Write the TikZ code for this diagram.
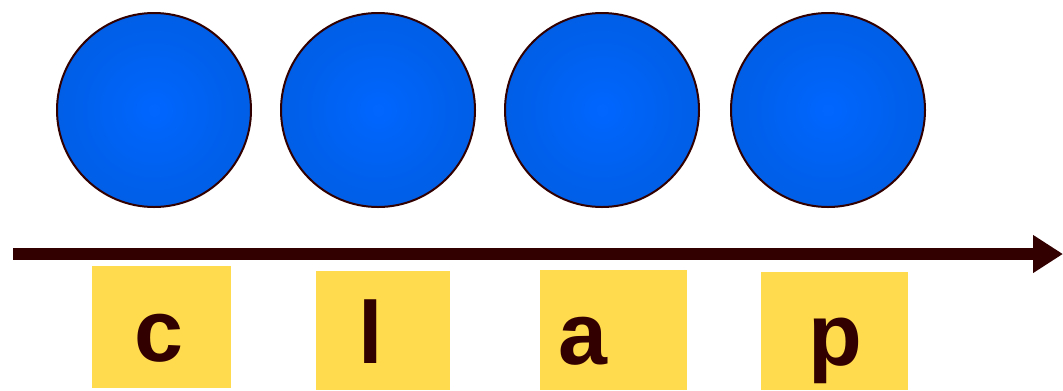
\documentclass[tikz,border=0pt]{standalone}
\usepackage{fontspec}
\setmainfont{Liberation Sans}
\usetikzlibrary{arrows.meta}
\definecolor{darkline}{HTML}{330000}
\definecolor{ballin}{HTML}{0066FF}
\definecolor{ballout}{HTML}{005EE6}
\definecolor{boxyellow}{HTML}{FFDB4D}
\begin{document}
\begin{tikzpicture}
	[
		x=0.75pt,
		y=-0.75pt,
		ball/.style={circle,draw=darkline,line width=1.5pt,minimum size=145.5pt,inner sep=0pt,inner color=ballin,outer color=ballout},
		letterbox/.style={rectangle,fill=boxyellow,inner sep=0pt},
		letter/.style={text=darkline,font=\fontsize{66}{66}\selectfont\bfseries,anchor=base,inner sep=0pt}
	]
		\useasboundingbox (0,0) rectangle (1063,390);
		% balls
		\node[ball] (ball1) at (154,110) {};
		\node[ball] (ball2) at (378,110) {};
		\node[ball] (ball3) at (602,110) {};
		\node[ball] (ball4) at (828,110) {};
		% time axis
		\coordinate (axisstart) at (13,254);
		\coordinate (axisend) at (1063,254);
		\draw [-{Triangle[length=22.5pt,width=27pt]},line width=9pt,color=darkline] (axisstart) -- (axisend);
		% letter boxes
		\node[letterbox,minimum width=104.25pt,minimum height=91.5pt] (boxc) at (161.5,327) {};
		\node[letterbox,minimum width=100.5pt,minimum height=89.25pt] (boxl) at (383,330.5) {};
		\node[letterbox,minimum width=110.25pt,minimum height=90pt] (boxa) at (613.5,330) {};
		\node[letterbox,minimum width=110.25pt,minimum height=88.5pt] (boxp) at (834.5,331) {};
		\node[letter] (c) at (158.5,361) {c};
		\node[letter] (l) at (371,363) {l};
		\node[letter] (a) at (582.5,364) {a};
		\node[letter] (p) at (835.5,365) {p};
	\end{tikzpicture}
\end{document}
